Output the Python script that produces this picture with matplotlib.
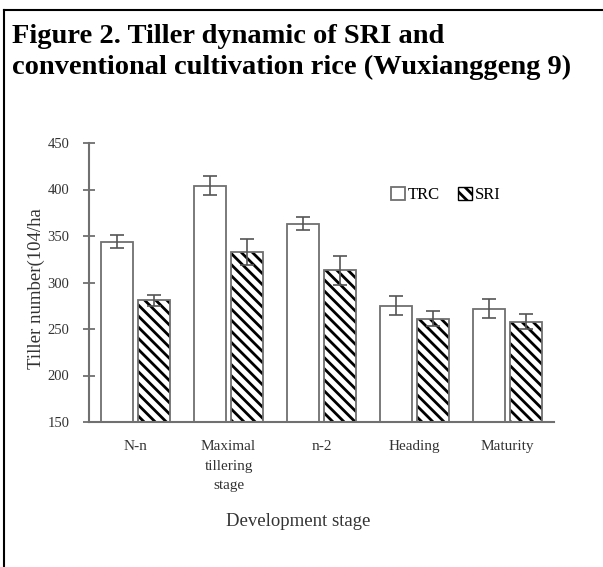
import numpy as np
import matplotlib.pyplot as plt
from matplotlib.lines import Line2D
from matplotlib.patches import Patch

plt.rcParams['font.family'] = ['Liberation Serif', 'DejaVu Serif']
plt.rcParams['hatch.linewidth'] = 2.0

# === data ===
stages = ['N-n', 'Maximal\ntillering\nstage', 'n-2', 'Heading', 'Maturity']
trc = [344, 404, 363, 275, 272]
trc_err = [7, 10, 7, 10, 10]
sri = [281, 333, 313, 261, 258]
sri_err = [6, 14, 16, 8, 8]

W, H = 603, 567
fig = plt.figure(figsize=(W / 100, H / 100), dpi=100)
ax = fig.add_axes([89 / W, 1 - 422 / H, (554 - 89) / W, (422 - 143) / H])

x = np.arange(len(stages))
bw = 0.34
off = 0.2
gray = '#707070'

ax.bar(x - off, trc, bw, color='white', edgecolor=gray, linewidth=1.3, zorder=2)
ax.bar(x + off, sri, bw, color='white', edgecolor='black', hatch='\\\\\\', linewidth=0, zorder=2)
ax.bar(x + off, sri, bw, fill=False, edgecolor=gray, linewidth=1.3, zorder=3)

ax.errorbar(x - off, trc, yerr=trc_err, fmt='none', ecolor='#555555', elinewidth=1.2,
            capsize=5, capthick=1.2, zorder=4)
ax.errorbar(x + off, sri, yerr=sri_err, fmt='none', ecolor='#555555', elinewidth=1.2,
            capsize=5, capthick=1.2, zorder=4)

ax.set_ylim(150, 450)
ax.set_xlim(-0.5, 4.5)
ax.set_yticks(range(150, 451, 50))
ax.set_xticks(x)
ax.set_xticklabels(stages, linespacing=1.65)
for s in ['top', 'right']:
    ax.spines[s].set_visible(False)
for s in ['left', 'bottom']:
    ax.spines[s].set_color(gray)
    ax.spines[s].set_linewidth(1.5)
ax.tick_params(axis='y', direction='inout', length=8, width=1.3, color=gray,
               labelsize=10.5, labelcolor='#333333', pad=10)
ax.tick_params(axis='x', length=0, labelsize=11, labelcolor='#333333', pad=13)

# legend
handles = [Patch(facecolor='white', edgecolor=gray, linewidth=1.3),
           Patch(facecolor='white', edgecolor='black', hatch='\\\\\\', linewidth=1)]
ax.legend(handles, ['TRC', 'SRI'], ncol=2, frameon=False, fontsize=12,
          loc='center', bbox_to_anchor=(446 / W, 1 - 195 / H), bbox_transform=fig.transFigure,
          handlelength=0.8, handleheight=0.8, handletextpad=0.2, columnspacing=1.1)

# axis titles
fig.text(36 / W, 1 - 289 / H, 'Tiller number(104/ha', rotation=90, ha='center', va='center',
         fontsize=13.5, color='#333333')
fig.text(298 / W, 1 - 522 / H, 'Development stage', ha='center', va='center',
         fontsize=13.5, color='#333333')

# title
fig.text(12 / W, 1 - 24 / H, 'Figure 2. Tiller dynamic of SRI and\nconventional cultivation rice (Wuxianggeng 9)',
         ha='left', va='top', fontsize=20.5, fontweight='bold', linespacing=1.28)

# page frame lines
fig.add_artist(Line2D([4 / W, 1], [1 - 10 / H, 1 - 10 / H], color='black', linewidth=1.5,
                      transform=fig.transFigure))
fig.add_artist(Line2D([4 / W, 4 / W], [1 - 10 / H, 0], color='black', linewidth=1.5,
                      transform=fig.transFigure))

fig.savefig('out.png', dpi=100)
